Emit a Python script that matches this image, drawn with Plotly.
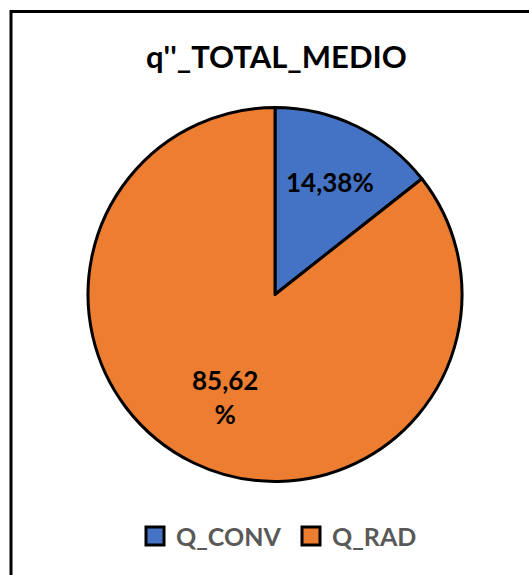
import math
import plotly.graph_objects as go

# Heat-flux split of the mean total flux
labels = ["Q_CONV", "Q_RAD"]
shares = [14.38, 85.62]
colors = ["#4472C4", "#ED7D31"]
title_text = "q''_TOTAL_MEDIO"

W, H = 529, 575
cx, cy, R = 275, 294.5, 187  # pie centre / radius in pixels

fig = go.Figure(
    go.Pie(
        labels=labels,
        values=shares,
        sort=False,
        direction="clockwise",
        rotation=0,
        marker=dict(colors=colors, line=dict(color="black", width=3)),
        textinfo="none",
        hoverinfo="label+percent",
        showlegend=False,
        domain=dict(x=[(cx - R) / W, (cx + R) / W],
                    y=[1 - (cy + R) / H, 1 - (cy - R) / H]),
    )
)

# data labels placed along each slice's mid-angle
radial = [0.67, 0.61]
annotations = []
start = 0.0
total = sum(shares)
for v, k in zip(shares, radial):
    mid = (start + v / 2) / total * 2 * math.pi
    start += v
    px = cx + k * R * math.sin(mid)
    py = cy - k * R * math.cos(mid)
    txt = f"{v:.2f}".replace(".", ",")
    if v > 50:
        txt = txt + "<br>%"
    else:
        txt = txt + "%"
    annotations.append(dict(
        x=px / W, y=1 - py / H, xref="paper", yref="paper",
        text=txt, showarrow=False,
        font=dict(family="Lato", size=26, color="black", weight="bold"),
        xanchor="center", yanchor="middle",
    ))

# title
annotations.append(dict(
    x=276 / W, y=1 - 56 / H, xref="paper", yref="paper",
    text=title_text, showarrow=False,
    font=dict(family="Lato", size=31, color="black", weight="bold"),
    xanchor="center", yanchor="middle",
))

# legend: square swatches with black border plus grey labels
shapes = []
leg_y = 536
leg_x = [146, 302]
sw = 18
for x0, lab, col in zip(leg_x, labels, colors):
    shapes.append(dict(
        type="rect", xref="paper", yref="paper",
        x0=x0 / W, x1=(x0 + sw) / W,
        y0=1 - (leg_y + sw / 2) / H, y1=1 - (leg_y - sw / 2) / H,
        fillcolor=col, line=dict(color="black", width=3),
    ))
    annotations.append(dict(
        x=(x0 + sw + 10) / W, y=1 - leg_y / H, xref="paper", yref="paper",
        text=lab, showarrow=False,
        font=dict(family="Lato", size=25, color="#595959", weight="bold"),
        xanchor="left", yanchor="middle",
    ))

# chart-area frame
shapes.append(dict(
    type="rect", xref="paper", yref="paper",
    x0=11 / W, x1=1.2, y0=-0.2, y1=1 - 11.5 / H,
    line=dict(color="black", width=3), fillcolor="rgba(0,0,0,0)",
))

fig.update_layout(
    width=W, height=H,
    margin=dict(l=0, r=0, t=0, b=0),
    paper_bgcolor="white",
    plot_bgcolor="white",
    annotations=annotations,
    shapes=shapes,
)

fig.write_html("out.html")
